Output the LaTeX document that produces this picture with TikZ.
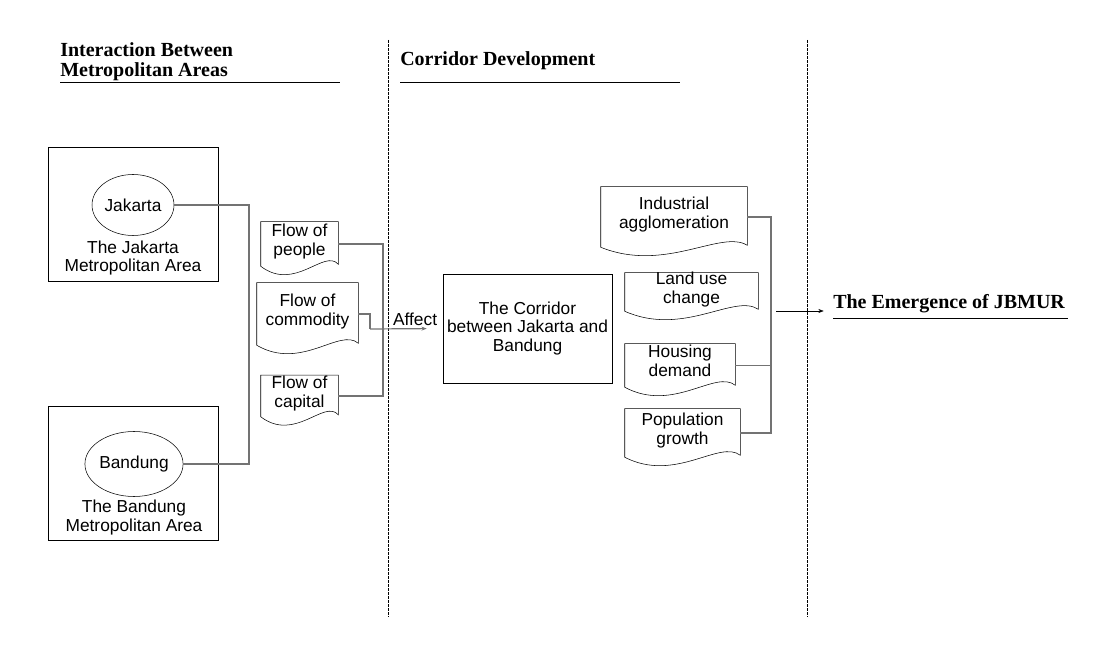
\documentclass[tikz,border=0pt]{standalone}
\usepackage{fontspec}
\setmainfont{Liberation Sans}
\newfontfamily\headfont{Liberation Serif}
\usetikzlibrary{positioning,calc,shapes.geometric,arrows.meta}
\newcommand{\doclines}[2]{\raisebox{1.5pt}[\height][\depth]{\begin{tabular}{@{}c@{}}#1\\#2\end{tabular}}}

\begin{document}
\begin{tikzpicture}[x=0.75pt, y=-0.75pt, font=\fontsize{13}{14}\selectfont,
    frame/.style={draw, thin, inner sep=0pt},
    doc/.style={inner sep=0pt, align=center},
    city/.style={draw, thin, ellipse, inner sep=0pt},
    link/.style={draw=black!55, line width=0.9pt},
    heading/.style={font=\headfont\bfseries\fontsize{15}{15}\selectfont, inner sep=0pt, align=left},
    divider/.style={thin, dash pattern=on 2pt off 1pt}]
    \useasboundingbox (0,0) rectangle (1107,648);

    % headings and dividers
    \node [heading, anchor=south west] (interhead) at (60,81) {Interaction Between\\Metropolitan Areas};
    \node [heading, anchor=base west] (corrhead) at (400,66) {Corridor Development};
    \node [heading, anchor=base west] (emergence) at (833,309) {The Emergence of JBMUR};
    \draw (60,82) -- (340,82);
    \draw (400,82) -- (680,82);
    \draw (833,318) -- (1068,318);
    \draw [divider] (388,40) -- (388,617);
    \draw [divider] (807,40) -- (807,617);

    % metropolitan areas
    \node [frame, minimum width=127.5pt, minimum height=100.5pt] (jakartaarea) at (133,214) {};
    \node [city, minimum width=61.5pt, minimum height=45.75pt] (jakarta) at (133,205) {Jakarta};
    \node [align=center, below=0pt of jakarta] (jakartalabel) {The Jakarta\\Metropolitan Area};
    \node [frame, minimum width=127.5pt, minimum height=100.5pt] (bandungarea) at (133,473) {};
    \node [city, minimum width=61.5pt, minimum height=48.75pt] (bandung) at (134,464) {Bandung};
    \node [align=center, below=-1pt of bandung] (bandunglabel) {The Bandung\\Metropolitan Area};

    % flows
    \node [doc, minimum width=57.75pt, minimum height=33pt] (people) at (299.5,244) {\doclines{Flow of}{people}};
    \node [doc, minimum width=75.75pt, minimum height=46.5pt] (commodity) at (307.5,314) {\doclines{Flow of}{commodity}};
    \node [doc, minimum width=57.75pt, minimum height=30.75pt] (capital) at (299.5,396) {\doclines{Flow of}{capital}};

    % corridor
    \node [frame, align=center, minimum width=126.75pt, minimum height=81.75pt] (corridor) at (527.5,328.5) {The Corridor\\between Jakarta and\\Bandung};

    % factors
    \node [doc, minimum width=109.5pt, minimum height=45pt] (industrial) at (674,217) {\doclines{Industrial}{agglomeration}};
    \node [doc, minimum width=99.75pt, minimum height=28.5pt] (landuse) at (691.5,292) {\doclines{Land use}{change}};
    \node [doc, minimum width=82.5pt, minimum height=32.25pt] (housing) at (680,365.5) {\doclines{Housing}{demand}};
    \node [doc, minimum width=86.25pt, minimum height=36pt] (population) at (682.5,433) {\doclines{Population}{growth}};

    \foreach \n in {people,commodity,capital,industrial,landuse,housing,population}
      \draw [thin] (\n.south west) -- (\n.north west) -- (\n.north east) -- ($(\n.south east)+(0,-2)$)
        .. controls ($(\n.south east)!0.18!(\n.south west)+(0,-18)$) and ($(\n.south west)!0.44!(\n.south east)+(0,26)$) .. (\n.south west);

    \coordinate (cityjoin) at (249,330);
    \coordinate (flowjoin) at (383,329);
    \coordinate (cbend) at (370,329);
    \coordinate (factorjoin) at (771,311);

    \draw [link] (jakarta.east) -| (cityjoin) |- (bandung.east);
    \draw [link] (people.east) -| (flowjoin) |- (capital.east);
    \draw [link] (commodity.east) -| (cbend);
    \draw [link, -{Stealth[length=4pt,width=3pt]}, shorten >=12pt] (cbend) -- (corridor.west)
      node [pos=0.62, above, black, inner sep=2pt] (affect) {Affect};
    \draw [link] (industrial.east) -| (factorjoin) |- (population.east);
    \draw [link] (housing.east) -- (housing.east -| factorjoin);
    \draw [thin, -{Stealth[length=4pt,width=3pt]}, shorten >=7pt] ($(factorjoin)+(5,0)$) -- (emergence.west |- factorjoin);
\end{tikzpicture}
\end{document}
